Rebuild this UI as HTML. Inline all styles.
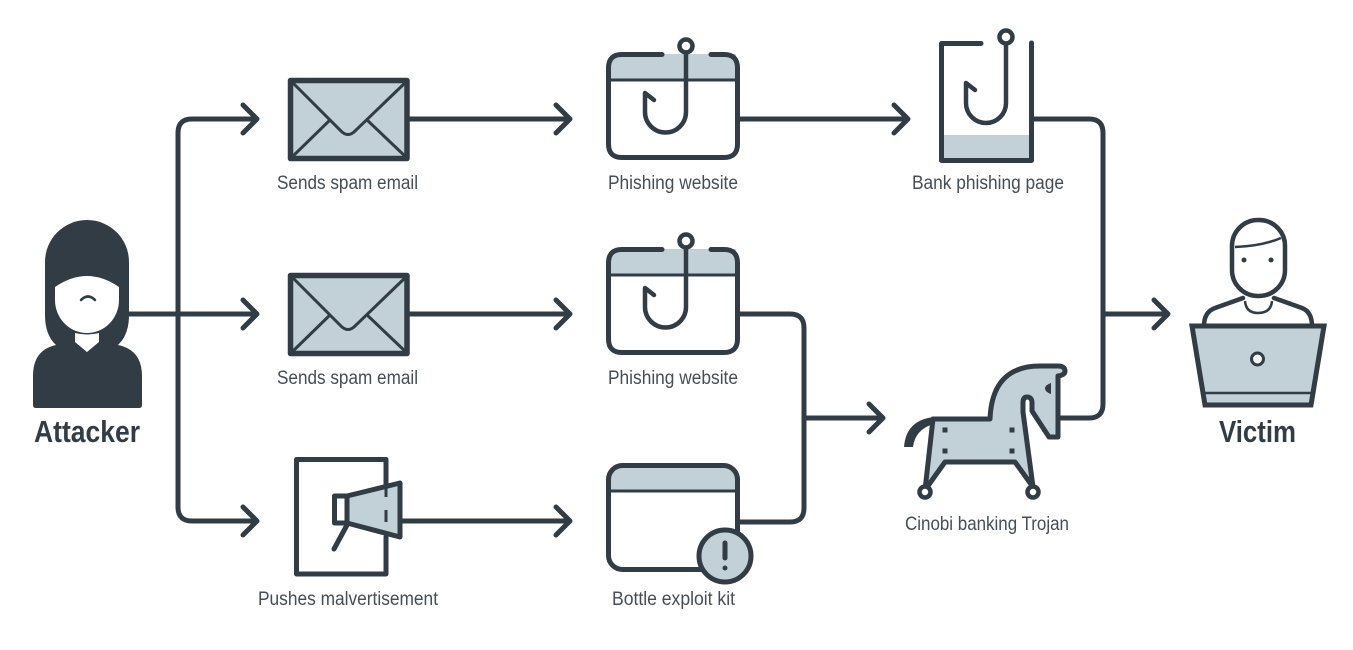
<!DOCTYPE html>
<html><head><meta charset="utf-8"><style>
html,body{margin:0;padding:0;background:#fff}
svg{display:block}
text{font-family:"Liberation Sans",sans-serif;fill:#454e55}
.b{font-weight:bold;fill:#323c44;font-size:31px}
.l{font-size:19px}
.s{fill:none;stroke:#323c44;stroke-width:5;stroke-linecap:round;stroke-linejoin:round}
.f{fill:#c2d0d7;stroke:none}
.t{fill:none;stroke:#323c44;stroke-width:3}
</style></head><body>
<svg width="1353" height="650" viewBox="0 0 1353 650" xmlns="http://www.w3.org/2000/svg">
<defs>
<g id="env">
<rect x="290.5" y="80.5" width="116.5" height="78" fill="#c2d0d7" stroke="#323c44" stroke-width="5.5" stroke-linejoin="round"/>
<path d="M291 81L342 132Q348 137 354 132L407 81M291 158L331 119M407 158L366 119" fill="none" stroke="#323c44" stroke-width="3"/>
</g>
<g id="web">
<path class="f" d="M610 80V66Q610 54 622 54H736V80Z" />
<path class="f" d="M700 54H725Q737 54 737 66V80H700Z"/>
<path class="t" d="M609 80H738"/>
<path class="s" d="M662 54.5H622Q608.500 54.500 608.500 68V144Q608.500 157.500 622 157.500H724Q737.500 157.500 737.500 144V68Q737.500 54.500 724 54.500H711"/>
<circle cx="686" cy="46" r="6.500" fill="#fff" stroke="#323c44" stroke-width="4.500"/>
<path d="M686 53V112A20.500 20.500 0 0 1 645 112V93L654 100" fill="none" stroke="#323c44" stroke-width="4.500" stroke-linecap="round" stroke-linejoin="round"/>
</g>
</defs>

<!-- connectors -->
<g class="s">
<path d="M129 314H257M243 300L257 314L243 328"/>
<path d="M257 119H192Q178 119 178 133V507Q178 521 192 521H257M243 105L257 119L243 133M243 507L257 521L243 535"/>
<path d="M409 119H570M556 105L570 119L556 133"/>
<path d="M409 314H570M556 300L570 314L556 328"/>
<path d="M401 521H570M556 507L570 521L556 535"/>
<path d="M740 119H908M894 105L908 119L894 133"/>
<path d="M740 314H790Q804 314 804 328V508Q804 522 790 522H740"/>
<path d="M804 418H883M869 404L883 418L869 432"/>
<path d="M1033 119H1089Q1103 119 1103 133V404Q1103 418 1089 418H1058"/>
<path d="M1103 314H1168M1154 300L1168 314L1154 328"/>
</g>

<!-- attacker -->
<path fill="#323c44" d="M45 262A42 42 0 0 1 129 262V315Q129 335 118 345Q142 350 142 376V405Q142 408 139 408H36Q33 408 33 405V376Q33 350 56 345Q45 335 45 315Z"/>
<path fill="#fff" d="M55 287Q87 265 119 287V300A32 33 0 0 1 55 300Z"/>
<path fill="#fff" d="M75 333Q87 336 99 333V342L87 352L75 342Z"/>
<path d="M81 300Q88 293 95 300" fill="none" stroke="#323c44" stroke-width="2.500" stroke-linecap="round"/>
<text class="b" x="34" y="442" textLength="106" lengthAdjust="spacingAndGlyphs">Attacker</text>

<!-- envelopes -->
<use href="#env"/>
<use href="#env" y="195"/>
<text class="l" x="277" y="189" textLength="141" lengthAdjust="spacingAndGlyphs">Sends spam email</text>
<text class="l" x="277" y="384" textLength="141" lengthAdjust="spacingAndGlyphs">Sends spam email</text>

<!-- websites -->
<use href="#web"/>
<use href="#web" y="195"/>
<text class="l" x="608" y="189" textLength="130" lengthAdjust="spacingAndGlyphs">Phishing website</text>
<text class="l" x="608" y="384" textLength="130" lengthAdjust="spacingAndGlyphs">Phishing website</text>

<!-- bank page -->
<rect class="f" x="942" y="135" width="89" height="25"/>
<path class="s" d="M981 43.500H941.500V160.500H1031.500V43"/>
<circle cx="1006" cy="37" r="6.500" fill="#fff" stroke="#323c44" stroke-width="4.500"/>
<path d="M1006 44V103A20 20 0 0 1 966 103V83L975 90" fill="none" stroke="#323c44" stroke-width="4.500" stroke-linecap="round" stroke-linejoin="round"/>
<text class="l" x="912" y="189" textLength="152" lengthAdjust="spacingAndGlyphs">Bank phishing page</text>

<!-- malvertisement -->
<path class="s" d="M386 490V459.500H296.500V574H386V537"/>
<path fill="#c2d0d7" d="M348 497L400 483V537L348 523Z"/>
<path d="M386 488V497M386 510V522" stroke="#323c44" stroke-width="3" fill="none"/>
<path class="s" d="M347 496L400 483V537L347 523H334.500V496Z"/>
<path class="s" d="M347 496V523M347 525L334 549"/>
<text class="l" x="258" y="605" textLength="180" lengthAdjust="spacingAndGlyphs">Pushes malvertisement</text>

<!-- exploit kit -->
<path class="f" d="M609 491V480Q609 466 623 466H724Q738 466 738 480V491Z"/>
<path class="t" d="M609 491H738"/>
<rect class="s" x="608.500" y="465.500" width="129" height="104" rx="14" style="fill:none"/>
<circle cx="725" cy="556" r="26" fill="#c2d0d7" stroke="#323c44" stroke-width="5"/>
<path d="M725 543V558" stroke="#323c44" stroke-width="5" stroke-linecap="round"/>
<circle cx="725" cy="568" r="2.500" fill="#323c44"/>
<text class="l" x="612" y="605" textLength="123" lengthAdjust="spacingAndGlyphs">Bottle exploit kit</text>

<!-- trojan horse -->
<path fill="#323c44" d="M934 417Q906 420 904 447H913Q915 430 933 424Z"/>
<path d="M933 419H990Q992 366 1040 366H1058Q1065 366 1065 371Q1065 375 1058 376V437H1049L1032 411V403Q1032 397 1027 397Q1023 397 1023 403V412L1033 487L1015 462H945L925 490Z" fill="#c2d0d7" stroke="#323c44" stroke-width="5" stroke-linejoin="round"/>
<circle cx="925" cy="492" r="5.500" fill="#fff" stroke="#323c44" stroke-width="4.500"/>
<circle cx="1033" cy="492" r="5.500" fill="#fff" stroke="#323c44" stroke-width="4.500"/>
<g fill="#323c44">
<rect x="942.500" y="427.500" width="5" height="5"/>
<rect x="942.500" y="448.500" width="5" height="5"/>
<rect x="1009.500" y="427.500" width="5" height="5"/>
<rect x="1009.500" y="448.500" width="5" height="5"/>
<path d="M1051 383V394Q1045 392 1045 388.500Q1045 385 1051 383Z"/>
</g>
<text class="l" x="905" y="530" textLength="164" lengthAdjust="spacingAndGlyphs">Cinobi banking Trojan</text>

<!-- victim -->
<rect x="1232" y="220" width="53" height="76" rx="26" fill="#fff" stroke="#323c44" stroke-width="4.500"/>
<path d="M1235 247Q1262 246 1281 238" fill="none" stroke="#323c44" stroke-width="2.500"/>
<circle cx="1244" cy="260" r="2.500" fill="#323c44"/>
<circle cx="1271" cy="260" r="2.500" fill="#323c44"/>
<path d="M1243 298L1215 308Q1204 312 1204 326M1274 298L1302 308Q1312 312 1312 326" fill="none" stroke="#323c44" stroke-width="4.500" stroke-linecap="round"/>
<path d="M1245 301Q1246 313 1258 313Q1271 313 1272 301" fill="none" stroke="#323c44" stroke-width="2.500"/>
<path d="M1192 326H1324L1311 405H1205Z" fill="#c2d0d7" stroke="#323c44" stroke-width="5" stroke-linejoin="miter"/>
<path d="M1203 393H1313" stroke="#323c44" stroke-width="2.500"/>
<circle cx="1257.500" cy="359" r="6" fill="#f2f2f2" stroke="#323c44" stroke-width="3"/>
<text class="b" x="1219" y="442" textLength="77" lengthAdjust="spacingAndGlyphs">Victim</text>
</svg>
</body></html>
